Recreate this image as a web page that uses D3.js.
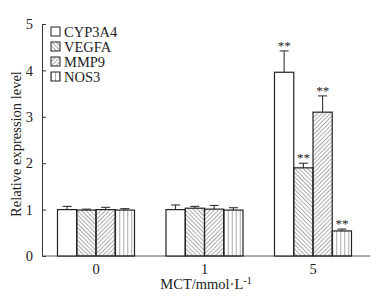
<!DOCTYPE html>
<html>
<head>
<meta charset="utf-8">
<script src="https://cdn.jsdelivr.net/npm/d3@7"></script>
<style>
  body { margin: 0; background: #fff; }
  svg text { font-family: "Liberation Serif", "DejaVu Serif", serif; fill: #222; }
</style>
</head>
<body>
<div class="chart"></div>
<script>
// 資料
const groups = ['0', '1', '5'];
const genes = ['CYP3A4', 'VEGFA', 'MMP9', 'NOS3'];
const means = [
  [1.00, 0.99, 1.00, 0.99],
  [1.00, 1.03, 1.01, 0.99],
  [3.96, 1.90, 3.10, 0.54]
];
const errs = [
  [0.07, 0.02, 0.05, 0.03],
  [0.10, 0.04, 0.08, 0.05],
  [0.46, 0.10, 0.35, 0.04]
];
const stars = [
  ['', '', '', ''],
  ['', '', '', ''],
  ['**', '**', '**', '**']
];
const yTicks = [0, 1, 2, 3, 4, 5];

const svg_width = 383, svg_height = 297;
const margin = {top: 24, right: 15, bottom: 41, left: 42};
const chart_width = svg_width - margin.left - margin.right;
const chart_height = svg_height - margin.top - margin.bottom;

const svg = d3.select('.chart').append('svg')
  .attr('width', svg_width).attr('height', svg_height);

// 填充圖樣
const defs = svg.append('defs');
function hatch(id, angle, gap, color, sw) {
  defs.append('pattern').attr('id', id)
    .attr('patternUnits', 'userSpaceOnUse')
    .attr('width', gap).attr('height', gap)
    .attr('patternTransform', `rotate(${angle})`)
    .append('line')
    .attr('x1', 0).attr('y1', 0).attr('x2', 0).attr('y2', gap)
    .attr('stroke', color).attr('stroke-width', sw);
}
hatch('p-vegfa', -45, 3, '#444', 0.9);
hatch('p-mmp9', 45, 3, '#444', 0.9);
hatch('p-nos3', 0, 4, '#555', 1);
const fills = ['#fff', 'url(#p-vegfa)', 'url(#p-mmp9)', 'url(#p-nos3)'];

const g = svg.append('g').attr('transform', `translate(${margin.left},${margin.top})`);

const yScale = d3.scaleLinear([0, 5], [chart_height, 0]);
const x0 = d3.scalePoint().domain(groups).range([54, 271]);
const x1 = d3.scaleBand().domain(genes).range([-38.5, 38.5]);

// 座標軸
const yAxis = d3.axisLeft(yScale).tickValues(yTicks).tickFormat(d3.format('d'))
  .tickSizeInner(-4).tickSizeOuter(-4).tickPadding(9);
const yAxisDraw = g.append('g').call(yAxis);
yAxisDraw.select('.domain').attr('stroke', '#333');
yAxisDraw.selectAll('.tick line').attr('stroke', '#333');
yAxisDraw.selectAll('text').style('font-size', '14.5px').attr('fill', '#222');

g.append('line').attr('x1', 0).attr('x2', chart_width + 2)
  .attr('y1', chart_height).attr('y2', chart_height)
  .attr('stroke', '#555').attr('stroke-width', 1);

g.selectAll('.xlab').data(groups).join('text').attr('class', 'xlab')
  .attr('x', d => x0(d)).attr('y', chart_height + 18)
  .attr('text-anchor', 'middle').style('font-size', '14.5px').text(d => d);

// 長條
const rows = [];
groups.forEach((grp, i) => genes.forEach((gene, j) => {
  rows.push({grp, gene, j, v: means[i][j], e: errs[i][j], s: stars[i][j]});
}));

const bars = g.append('g').selectAll('g').data(rows).join('g')
  .attr('transform', d => `translate(${x0(d.grp) + x1(d.gene)},0)`);
const bw = x1.bandwidth();

bars.append('rect')
  .attr('x', 0).attr('y', d => yScale(d.v))
  .attr('width', bw).attr('height', d => chart_height - yScale(d.v))
  .attr('fill', d => fills[d.j]).attr('stroke', '#222').attr('stroke-width', 1.2);

bars.append('line')
  .attr('x1', bw / 2).attr('x2', bw / 2)
  .attr('y1', d => yScale(d.v)).attr('y2', d => yScale(d.v + d.e))
  .attr('stroke', '#222');
bars.append('line')
  .attr('x1', bw / 2 - 4.5).attr('x2', bw / 2 + 4.5)
  .attr('y1', d => yScale(d.v + d.e)).attr('y2', d => yScale(d.v + d.e))
  .attr('stroke', '#222');
bars.append('text')
  .attr('x', bw / 2).attr('y', d => yScale(d.v + d.e) - 1)
  .attr('text-anchor', 'middle').style('font-size', '13px')
  .text(d => d.s);

// 圖例
const legend = g.append('g').attr('transform', 'translate(9,3)');
const li = legend.selectAll('g').data(genes).join('g')
  .attr('transform', (d, i) => `translate(0,${i * 15})`);
li.append('rect').attr('width', 9).attr('height', 9)
  .attr('fill', (d, i) => fills[i]).attr('stroke', '#222');
li.append('text').attr('x', 13).attr('y', 10).style('font-size', '14.5px').text(d => d);

// 軸標題
svg.append('text')
  .attr('transform', `translate(21,${margin.top + chart_height / 2 + 4}) rotate(-90)`)
  .attr('text-anchor', 'middle').style('font-size', '14.5px')
  .text('Relative expression level');

const xt = svg.append('text').attr('x', 206).attr('y', 289)
  .attr('text-anchor', 'middle').style('font-size', '14.5px');
xt.append('tspan').text('MCT/mmol·L');
xt.append('tspan').attr('dy', -5).style('font-size', '10px').text('-1');
</script>
</body>
</html>
